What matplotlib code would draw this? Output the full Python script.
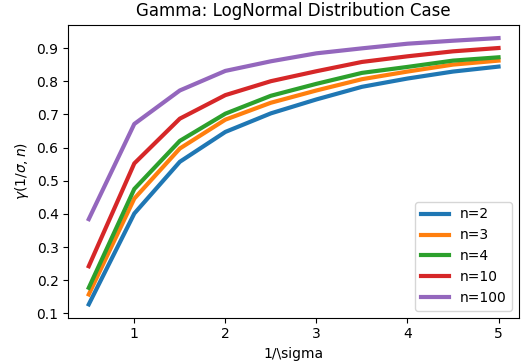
import matplotlib
matplotlib.use("Agg")
import matplotlib.pyplot as plt

x = [0.5, 1.0, 1.5, 2.0, 2.5, 3.0, 3.5, 4.0, 4.5, 5.0]
y_n2 = [0.127, 0.401, 0.557, 0.647, 0.703, 0.745, 0.783, 0.808, 0.829, 0.844]
y_n3 = [0.157, 0.446, 0.597, 0.684, 0.735, 0.772, 0.806, 0.829, 0.850, 0.862]
y_n4 = [0.177, 0.475, 0.620, 0.702, 0.756, 0.792, 0.825, 0.843, 0.862, 0.872]
y_n10 = [0.242, 0.552, 0.687, 0.758, 0.800, 0.830, 0.858, 0.875, 0.890, 0.900]
y_n100 = [0.384, 0.671, 0.772, 0.831, 0.860, 0.884, 0.899, 0.913, 0.922, 0.930]
labels = ["n=2", "n=3", "n=4", "n=10", "n=100"]
series = [y_n2, y_n3, y_n4, y_n10, y_n100]

fig = plt.figure(figsize=(5.24, 3.64), dpi=100)
ax = fig.add_axes([0.1303, 0.1272, 0.8602, 0.8048])
for ys, lab in zip(series, labels):
    ax.plot(x, ys, lw=3, label=lab)
ax.set_title("Gamma: LogNormal Distribution Case", fontsize=12)
ax.set_xlabel("1/\\sigma")
ax.set_ylabel(r"$\gamma(1/\sigma, n)$")
ax.legend(loc="lower right")
fig.savefig("out.png", dpi=100)
